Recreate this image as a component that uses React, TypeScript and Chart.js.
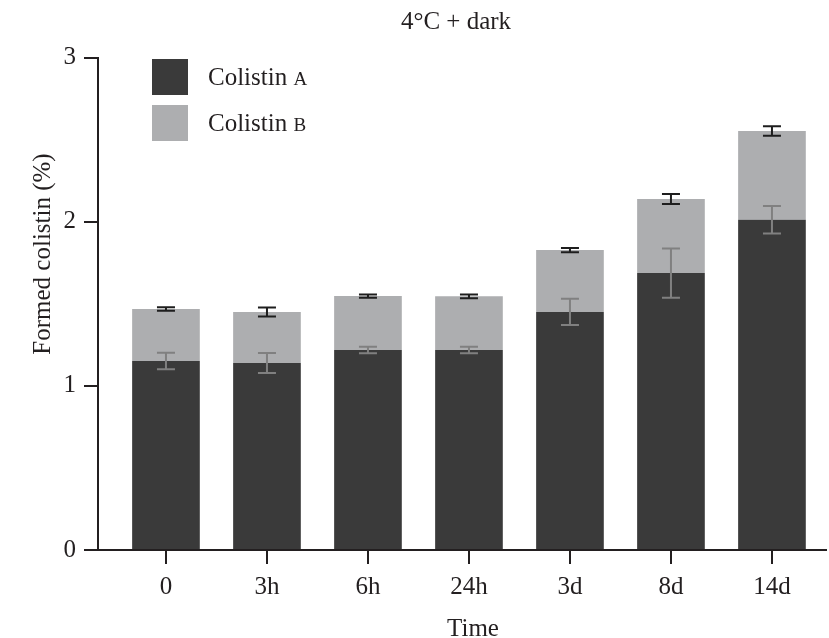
import React, { useEffect, useRef } from "react";
import { Chart, registerables } from "chart.js";

Chart.register(...registerables);

const categories = ["0", "3h", "6h", "24h", "3d", "8d", "14d"];
const colistinA = [1.151, 1.139, 1.218, 1.218, 1.45, 1.687, 2.012];
const colistinB = [0.317, 0.311, 0.329, 0.327, 0.377, 0.451, 0.54];
const errA = [0.05, 0.061, 0.02, 0.02, 0.08, 0.15, 0.084];
const errTotal = [0.011, 0.027, 0.01, 0.012, 0.013, 0.03, 0.029];
const yTicks = [0, 1, 2, 3];

const FONT = "'Liberation Serif', 'Times New Roman', serif";
const TEXT = "#231f20";
const COLOR_A = "#3a3a3a";
const COLOR_B = "#adaeb0";
const FS = 25;

const overlay = {
  id: "overlay",
  afterDatasetsDraw(chart: any) {
    const ctx = chart.ctx;
    const xs = chart.scales.x;
    const ys = chart.scales.y;
    const drawErr = (x: number, v: number, e: number, color: string) => {
      const y1 = ys.getPixelForValue(v + e);
      const y2 = ys.getPixelForValue(v - e);
      ctx.save();
      ctx.strokeStyle = color;
      ctx.lineWidth = 2;
      ctx.beginPath();
      ctx.moveTo(x, y1);
      ctx.lineTo(x, y2);
      ctx.moveTo(x - 9, y1);
      ctx.lineTo(x + 9, y1);
      ctx.moveTo(x - 9, y2);
      ctx.lineTo(x + 9, y2);
      ctx.stroke();
      ctx.restore();
    };
    categories.forEach((_, i) => {
      const x = xs.getPixelForValue(i);
      drawErr(x, colistinA[i], errA[i], "#808080");
      drawErr(x, colistinA[i] + colistinB[i], errTotal[i], "#1e1e1e");
    });
  },
  afterDraw(chart: any) {
    const ctx = chart.ctx;
    ctx.save();
    ctx.fillStyle = TEXT;
    ctx.font = `${FS}px ${FONT}`;
    ctx.textAlign = "center";
    ctx.textBaseline = "alphabetic";
    ctx.fillText("4°C + dark", 456, 29);
    ctx.fillText("Time", 473, 636);
    ctx.save();
    ctx.translate(50, 254);
    ctx.rotate(-Math.PI / 2);
    ctx.fillText("Formed colistin (%)", 0, 0);
    ctx.restore();
    const items = [
      { color: COLOR_A, main: "Colistin ", sc: "A", y: 59 },
      { color: COLOR_B, main: "Colistin ", sc: "B", y: 105 },
    ];
    items.forEach((it) => {
      ctx.fillStyle = it.color;
      ctx.fillRect(152, it.y, 36, 36);
      ctx.fillStyle = TEXT;
      ctx.textAlign = "left";
      ctx.textBaseline = "alphabetic";
      ctx.font = `${FS}px ${FONT}`;
      ctx.fillText(it.main, 208, it.y + 26);
      const w = ctx.measureText(it.main).width;
      ctx.font = `${Math.round(FS * 0.75)}px ${FONT}`;
      ctx.fillText(it.sc, 208 + w, it.y + 26);
    });
    ctx.restore();
  },
};

export default function App() {
  const ref = useRef<HTMLCanvasElement>(null);
  useEffect(() => {
    document.body.style.margin = "0";
    document.body.style.overflow = "hidden";
    const chart = new Chart(ref.current!, {
      type: "bar",
      data: {
        datasets: [
          {
            label: "Colistin A",
            data: colistinA.map((v, i) => ({ x: i, y: v })),
            backgroundColor: COLOR_A,
            borderWidth: 0,
            barPercentage: 0.67,
            categoryPercentage: 1,
          },
          {
            label: "Colistin B",
            data: colistinB.map((v, i) => ({ x: i, y: v })),
            backgroundColor: COLOR_B,
            borderWidth: 0,
            barPercentage: 0.67,
            categoryPercentage: 1,
          },
        ],
      },
      options: {
        responsive: false,
        animation: false,
        layout: { padding: { left: 0, right: 3, top: 57.5, bottom: 0 } },
        plugins: { legend: { display: false }, tooltip: { enabled: false }, title: { display: false } },
        scales: {
          x: {
            type: "linear",
            stacked: true,
            offset: false,
            min: -0.673,
            max: 6.535,
            afterBuildTicks: (scale: any) => {
              scale.ticks = categories.map((_, i) => ({ value: i }));
            },
            afterFit: (scale: any) => {
              scale.height = 88;
            },
            ticks: {
              callback: (v: any) => categories[v],
              font: { family: FONT, size: FS },
              color: TEXT,
              padding: 8,
              maxRotation: 0,
              autoSkip: false,
            },
            grid: { offset: false, drawOnChartArea: false, tickLength: 14, tickColor: TEXT, lineWidth: 2 },
            border: { color: TEXT, width: 2 },
          },
          y: {
            stacked: true,
            min: 0,
            max: 3,
            afterBuildTicks: (scale: any) => {
              scale.ticks = yTicks.map((v) => ({ value: v }));
            },
            afterFit: (scale: any) => {
              scale.width = 98;
            },
            ticks: {
              font: { family: FONT, size: FS },
              color: TEXT,
              padding: 8,
            },
            grid: { drawOnChartArea: false, tickLength: 14, tickColor: TEXT, lineWidth: 2 },
            border: { color: TEXT, width: 2 },
          },
        },
      },
      plugins: [overlay],
    });
    return () => chart.destroy();
  }, []);
  return <canvas ref={ref} width={829} height={638} style={{ display: "block" }} />;
}
